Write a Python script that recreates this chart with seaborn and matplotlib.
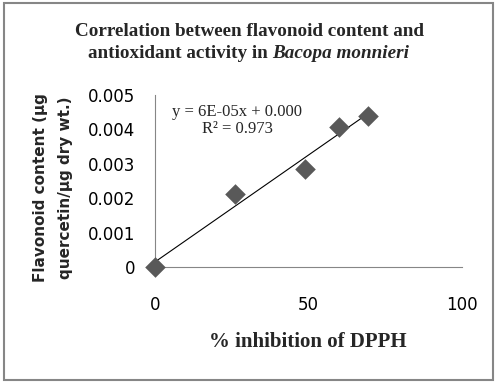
import numpy as np
import pandas as pd
import matplotlib
matplotlib.use("Agg")
import matplotlib.pyplot as plt
import seaborn as sns
from matplotlib.patches import Rectangle

# values
inhibition = [0.0, 26.1, 48.9, 60.0, 69.3]
flavonoid = [0.0, 0.00212, 0.00284, 0.00407, 0.00438]
x_ticks = [0, 50, 100]
y_ticks = [0, 0.001, 0.002, 0.003, 0.004, 0.005]
y_tick_labels = ["0", "0.001", "0.002", "0.003", "0.004", "0.005"]
eq_text = "y = 6E-05x + 0.000\nR\u00b2 = 0.973"

df = pd.DataFrame({"inhibition": inhibition, "flavonoid": flavonoid})

sns.set_style("white")
plt.rcParams["font.family"] = ["DejaVu Sans"]

fig = plt.figure(figsize=(4.98, 3.86), dpi=100)
ax = fig.add_axes([155 / 498, 1 - 267 / 386, 307 / 498, 172.3 / 386])

# trend line
sns.regplot(data=df, x="inhibition", y="flavonoid", scatter=False, ci=None,
            color="black", line_kws={"linewidth": 0.8}, ax=ax)
sns.scatterplot(data=df, x="inhibition", y="flavonoid", marker="D", s=110,
                color="#595959", edgecolor="#595959", linewidth=0, zorder=5,
                clip_on=False, ax=ax)

ax.set_xlim(0, 100)
ax.set_ylim(0, 0.005)
ax.set_xticks(x_ticks)
ax.set_yticks(y_ticks)
ax.set_yticklabels(y_tick_labels)
ax.set_xlabel("")
ax.set_ylabel("")
for side in ["top", "right"]:
    ax.spines[side].set_visible(False)
for side in ["left", "bottom"]:
    ax.spines[side].set_color("#868686")
    ax.spines[side].set_linewidth(0.8)
ax.tick_params(axis="both", direction="out", length=5, width=0.8,
               color="#868686", labelsize=12, labelcolor="black")
ax.tick_params(axis="x", pad=16)
ax.tick_params(axis="y", pad=9)

ax.text(0.267, 0.85, eq_text, transform=ax.transAxes, ha="center", va="center",
        fontsize=12, family="Liberation Serif", linespacing=1.15)

# titles
title_size = 13.8
fig.text(0.5, 1 - 32 / 386, "Correlation between flavonoid content and",
         ha="center", va="center", fontsize=title_size, fontweight="bold",
         family="Liberation Serif")
renderer = fig.canvas.get_renderer()
y2 = 1 - 53 / 386
t1 = fig.text(0, y2, "antioxidant activity in", ha="left", va="center",
              fontsize=title_size, fontweight="bold", family="Liberation Serif")
t2 = fig.text(0, y2, "Bacopa monnieri", ha="left", va="center",
              fontsize=title_size, fontweight="bold", style="italic",
              family="Liberation Serif")
w1 = t1.get_window_extent(renderer).width
w2 = t2.get_window_extent(renderer).width
gap = 4.5
start = 249 - (w1 + gap + w2) / 2
t1.set_x(start / 498)
t2.set_x((start + w1 + gap) / 498)

fig.text(308 / 498, 1 - 342 / 386, "% inhibition of DPPH", ha="center",
         va="center", fontsize=15, fontweight="bold", family="Liberation Serif")
fig.text(53 / 498, 1 - 188 / 386,
         "Flavonoid content (\u00b5g\nquercetin/\u00b5g dry wt.)",
         rotation=90, ha="center", va="center", fontsize=11,
         fontweight="bold", linespacing=1.9)

# chart border
fig.patches.append(Rectangle((4 / 498, 1 - 380 / 386), 489 / 498, 377 / 386,
                             transform=fig.transFigure, fill=False,
                             edgecolor="#868686", linewidth=1.5))

fig.savefig("out.png", dpi=100)
